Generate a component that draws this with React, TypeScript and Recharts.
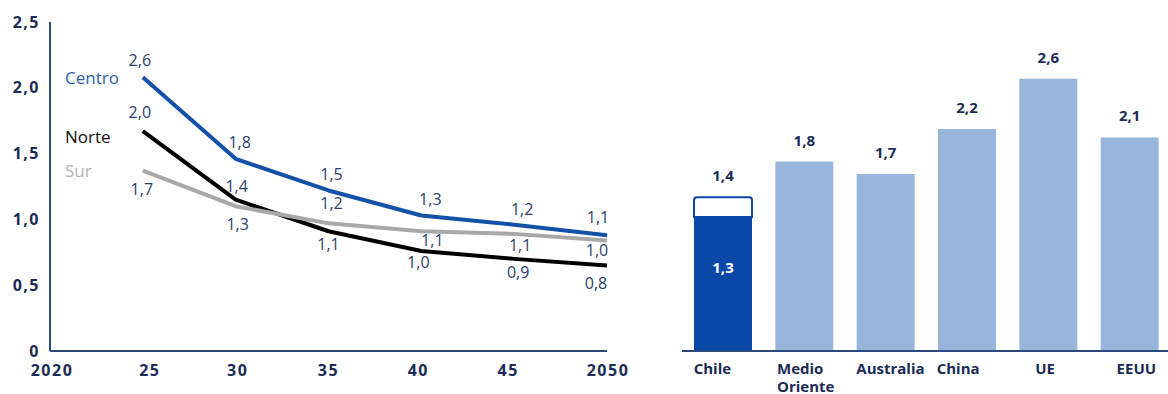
import React from "react";
import { LineChart, Line, BarChart, Bar, Cell, XAxis, YAxis, LabelList } from "recharts";

// left chart: plotted positions and the printed labels
const years = [2025, 2030, 2035, 2040, 2045, 2050];
const centro = [2.08, 1.46, 1.22, 1.03, 0.96, 0.88];
const norte = [1.67, 1.15, 0.91, 0.76, 0.7, 0.65];
const sur = [1.37, 1.1, 0.97, 0.91, 0.89, 0.84];
const centroLabels = [2.6, 1.8, 1.5, 1.3, 1.2, 1.1];
const norteLabels = [2.0, 1.4, 1.1, 1.0, 0.9, 0.8];
const surLabels = [1.7, 1.3, 1.2, 1.1, 1.1, 1.0];
const yTicks = [0, 0.5, 1, 1.5, 2, 2.5];
const xTicks = [2020, 2025, 2030, 2035, 2040, 2045, 2050];

// right chart
const countries = ["Chile", "Medio Oriente", "Australia", "China", "UE", "EEUU"];
const barBase = [1.28, 1.81, 1.69, 2.12, 2.6, 2.04];
const barExtra = [0.19, 0, 0, 0, 0, 0];
const barLabels = [1.4, 1.8, 1.7, 2.2, 2.6, 2.1];
const chileInner = 1.3;

const lineData = years.map((y, i) => ({ year: y, centro: centro[i], norte: norte[i], sur: sur[i] }));
const barData = countries.map((c, i) => ({ name: c, base: barBase[i], extra: barExtra[i] }));

const FONT = "'Open Sans', sans-serif";
const NAVY = "#1c2b55";
const LABEL = "#2e3d66";
const AXIS = "#2b4a7e";

const fmt = (v: number) => (v === 0 ? "0" : v.toFixed(1).replace(".", ","));

const series = [
  { key: "centro", name: "Centro", color: "#1451a8", nameColor: "#2e62a5", nameDy: 0, labels: centroLabels,
    dx: [-3, 4, 3, 9, 8, -9], dy: [-17, -17, -16, -16, -16, -18] },
  { key: "norte", name: "Norte", color: "#000000", nameColor: "#111111", nameDy: 5, labels: norteLabels,
    dx: [-3, 1, 0, -3, 4, -11], dy: [-19, -14, 13, 11, 13, 18] },
  { key: "sur", name: "Sur", color: "#a8a8a8", nameColor: "#b3b3b3", nameDy: 0, labels: surLabels,
    dx: [-1, 2, 3, 11, 6, -10], dy: [18, 18, -20, 9, 11, 10] },
];

const makeLabel = (s: (typeof series)[number]) => (props: any) => {
  const { x, y, index } = props;
  return (
    <g>
      {index === 0 && (
        <text x={65} y={y + s.nameDy} fill={s.nameColor} fontSize={17} fontFamily={FONT} dominantBaseline="central">
          {s.name}
        </text>
      )}
      <text
        x={x + s.dx[index]}
        y={y + s.dy[index]}
        fill={LABEL}
        fontSize={16}
        fontFamily={FONT}
        textAnchor="middle"
        dominantBaseline="central"
      >
        {fmt(s.labels[index])}
      </text>
    </g>
  );
};

const yearShift = [2, 7, 2, 0, -3, -6, 1];

const YearTick = (props: any) => {
  const { x, y, payload, index } = props;
  const v = payload.value as number;
  const txt = v === 2020 || v === 2050 ? String(v) : String(v).slice(2);
  return (
    <text
      x={x + yearShift[index]}
      y={y}
      fill={NAVY}
      fontSize={16}
      fontWeight={700}
      fontFamily={FONT}
      letterSpacing={1.5}
      textAnchor="middle"
      dominantBaseline="central"
    >
      {txt}
    </text>
  );
};

const catAnchor = ["start", "start", "start", "start", "middle", "middle"];
const catShift = [-29, -27, -29, -30, -3, 7];

const CatTick = (props: any) => {
  const { x, y, payload, index } = props;
  const lines = String(payload.value).split(" ");
  return (
    <text
      x={x + catShift[index]}
      y={y}
      fill={NAVY}
      fontSize={15}
      fontWeight={700}
      fontFamily={FONT}
      textAnchor={catAnchor[index] as any}
    >
      {lines.map((l, i) => (
        <tspan key={i} x={x + catShift[index]} dy={i === 0 ? "0.71em" : 18}>
          {l}
        </tspan>
      ))}
    </text>
  );
};

const BarLabels = (props: any) => {
  const { x, y, width, height, index } = props;
  const extraPx = (height * barExtra[index]) / barBase[index];
  return (
    <g>
      <text
        x={x + width / 2}
        y={y - extraPx - 22}
        fill={NAVY}
        fontSize={15}
        fontWeight={700}
        fontFamily={FONT}
        textAnchor="middle"
        dominantBaseline="central"
      >
        {fmt(barLabels[index])}
      </text>
      {index === 0 && (
        <text
          x={x + width / 2}
          y={y + 50}
          fill="#ffffff"
          fontSize={15}
          fontWeight={700}
          fontFamily={FONT}
          textAnchor="middle"
          dominantBaseline="central"
        >
          {fmt(chileInner)}
        </text>
      )}
    </g>
  );
};

const yTickStyle = { fill: NAVY, fontSize: 16, fontWeight: 700, fontFamily: FONT, letterSpacing: 1.5 };

export default function App() {
  return (
    <div style={{ position: "absolute", left: 0, top: 0, width: 1168, height: 394, overflow: "hidden", background: "#fff" }}>
      <div style={{ position: "absolute", left: 0, top: 0 }}>
        <LineChart width={640} height={394} data={lineData} margin={{ top: 22, right: 33, left: 0, bottom: 13 }}>
          <XAxis
            dataKey="year"
            type="number"
            domain={[2020, 2050]}
            ticks={xTicks}
            axisLine={{ stroke: AXIS, strokeWidth: 2 }}
            tickLine={false}
            tick={<YearTick />}
            tickMargin={13}
            height={30}
            interval={0}
          />
          <YAxis
            domain={[0, 2.5]}
            ticks={yTicks}
            tickFormatter={fmt}
            axisLine={{ stroke: AXIS, strokeWidth: 2 }}
            tickLine={false}
            tick={yTickStyle}
            tickMargin={4}
            width={50}
            interval={0}
          />
          {series.map((s) => (
            <Line
              key={s.key}
              dataKey={s.key}
              type="linear"
              stroke={s.color}
              strokeWidth={4}
              strokeLinejoin="round"
              dot={false}
              activeDot={false}
              isAnimationActive={false}
            >
              <LabelList dataKey={s.key} content={makeLabel(s)} />
            </Line>
          ))}
        </LineChart>
      </div>
      <div style={{ position: "absolute", left: 662, top: 0 }}>
        <BarChart width={510} height={394} data={barData} margin={{ top: 37, right: 2, left: 20, bottom: 0 }}>
          <XAxis
            dataKey="name"
            axisLine={{ stroke: AXIS, strokeWidth: 2 }}
            tickLine={false}
            tick={<CatTick />}
            tickMargin={6}
            height={43}
            interval={0}
          />
          <YAxis hide domain={[0, 3]} />
          <Bar dataKey="base" stackId="a" barSize={58} isAnimationActive={false}>
            {barData.map((d, i) => (
              <Cell key={d.name} fill={i === 0 ? "#0a48a8" : "#98b5db"} />
            ))}
            <LabelList dataKey="base" content={BarLabels} />
          </Bar>
          <Bar
            dataKey="extra"
            stackId="a"
            barSize={58}
            fill="#ffffff"
            stroke="#0a48a8"
            strokeWidth={2}
            radius={[3, 3, 0, 0]}
            isAnimationActive={false}
          />
        </BarChart>
      </div>
    </div>
  );
}
